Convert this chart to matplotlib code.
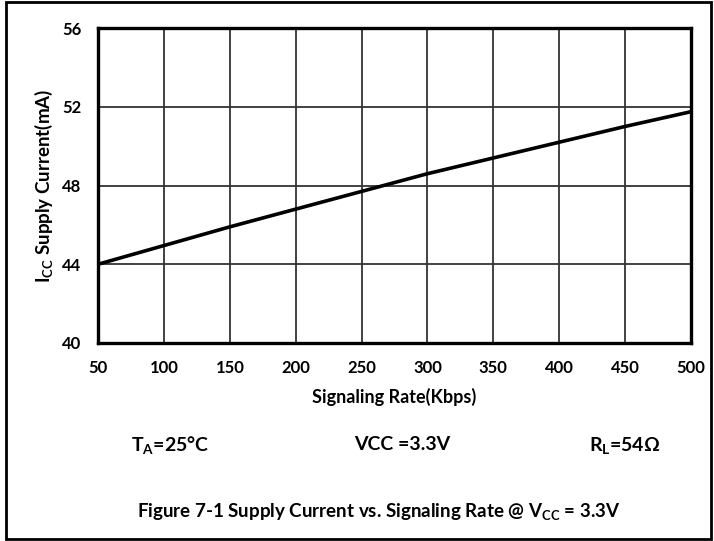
import matplotlib
matplotlib.use("Agg")
import matplotlib.pyplot as plt
from matplotlib.patches import Rectangle

plt.rcParams["font.family"] = ["Lato", "DejaVu Sans"]
plt.rcParams["font.weight"] = "bold"
plt.rcParams["mathtext.fontset"] = "custom"
plt.rcParams["mathtext.rm"] = "Lato:bold"
plt.rcParams["mathtext.it"] = "Lato:bold"
plt.rcParams["mathtext.bf"] = "Lato:bold"

# signaling rate (Kbps) and supply current (mA)
rate = [50, 100, 150, 200, 250, 300, 350, 400, 450, 500]
icc = [44.0, 44.95, 45.9, 46.8, 47.7, 48.6, 49.4, 50.2, 51.0, 51.75]

x_ticks = [50, 100, 150, 200, 250, 300, 350, 400, 450, 500]
y_ticks = [40, 44, 48, 52, 56]
conditions = [r"$\mathrm{T_A}$=25°C", "VCC =3.3V", r"$\mathrm{R_L}$=54Ω"]

fig = plt.figure(figsize=(7.14, 5.41), dpi=100)
ax = fig.add_axes([0.1373, 0.366, 0.8305, 0.5822])

ax.plot(rate, icc, color="black", lw=2.6, zorder=3)

ax.set_xlim(50, 500)
ax.set_ylim(40, 56)
ax.set_xticks(x_ticks)
ax.set_yticks(y_ticks)
ax.grid(True, color="#333333", lw=1.3)
ax.tick_params(length=0, labelsize=12, pad=12)
for lab in ax.get_xticklabels() + ax.get_yticklabels():
    lab.set_fontweight("bold")
for s in ax.spines.values():
    s.set_linewidth(2.4)
    s.set_color("black")

ax.set_xlabel("Signaling Rate(Kbps)", fontsize=13, fontweight="bold", labelpad=9)
ax.set_ylabel(r"$\mathrm{I_{CC}}$ Supply Current(mA)", fontsize=13.5, fontweight="bold", labelpad=5)

# test conditions row
cond_x = [0.238, 0.563, 0.875]
for x, t in zip(cond_x, conditions):
    fig.text(x, 1 - 445 / 541, t, ha="center", va="center", fontsize=14, fontweight="bold")

fig.text(0.53, 1 - 512 / 541,
         r"Figure 7-1 Supply Current vs. Signaling Rate @ $\mathrm{V_{CC}}$ = 3.3V",
         ha="center", va="center", fontsize=13.5, fontweight="bold")

# outer frame
fig.patches.append(Rectangle((0.008, 0.004), 0.988, 0.992, transform=fig.transFigure,
                             fill=False, ec="black", lw=2))

fig.savefig("out.png", dpi=100)
